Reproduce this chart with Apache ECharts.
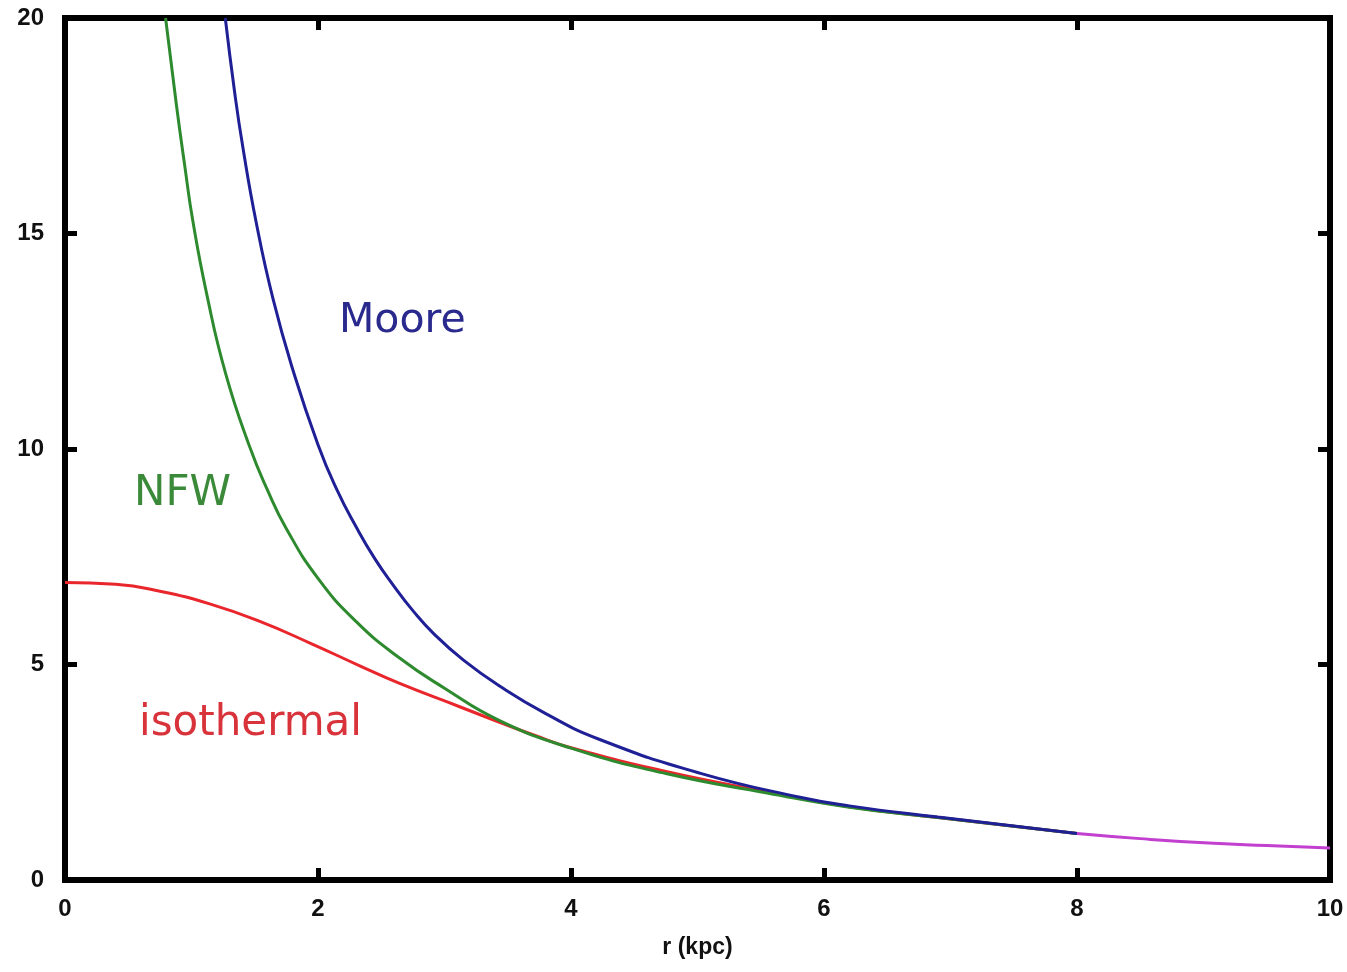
<!DOCTYPE html>
<html>
<head>
<meta charset="utf-8">
<script src="https://cdn.jsdelivr.net/npm/echarts@6/dist/echarts.min.js"></script>
<style>
html,body{margin:0;padding:0;background:#fff;}
#chart{width:1347px;height:972px;}
</style>
</head>
<body>
<div id="chart"></div>
<script>
// ---- data ----
var xTicks = [0, 2, 4, 6, 8, 10];
var yTicks = [0, 5, 10, 15, 20];
var axisTitle = 'r (kpc)';

var isoR = [0, 0.4, 0.75, 1.15, 1.54, 1.95, 2.33, 2.645, 3.12, 3.435, 3.7, 4.0, 4.75, 5.55, 6.2, 6.9, 8.0];
var isoV = [6.9, 6.86, 6.7, 6.4, 6.0, 5.48, 4.97, 4.56, 4.02, 3.66, 3.37, 3.07, 2.52, 2.05, 1.7, 1.45, 1.08];

var nfwR = [0.795, 0.88, 0.95, 1.01, 1.12, 1.27, 1.46, 1.6, 1.75, 2.0, 2.3, 2.645, 3.0, 3.435, 4.0, 4.75, 5.55, 6.2, 6.9, 8.0];
var nfwV = [20, 18.0, 16.5, 15.3, 13.6, 11.75, 10.05, 9.05, 8.15, 7.0, 6.0, 5.15, 4.45, 3.7, 3.06, 2.47, 2.02, 1.69, 1.45, 1.08];

var mooreR = [1.267, 1.34, 1.406, 1.512, 1.643, 1.80, 2.0, 2.15, 2.3, 2.45, 2.6, 2.75, 2.92, 3.15, 3.435, 3.8, 4.227, 5.017, 5.81, 6.2, 6.9, 8.0];
var mooreV = [20, 18.3, 17.0, 15.25, 13.5, 11.85, 10.1, 9.05, 8.2, 7.45, 6.82, 6.25, 5.7, 5.1, 4.5, 3.86, 3.26, 2.48, 1.92, 1.72, 1.46, 1.08];

var tailR = [8.0, 8.5, 9.08, 9.5, 10.0];
var tailV = [1.08, 0.96, 0.85, 0.8, 0.74];

var labelIso = 'isothermal';
var labelNFW = 'NFW';
var labelMoore = 'Moore';

function pairs(a, b) { return a.map(function (v, i) { return [v, b[i]]; }); }

var chart = echarts.init(document.getElementById('chart'), null, {renderer: 'canvas'});

var tickFont = {fontFamily: 'Liberation Sans', fontWeight: 'bold', fontSize: 24, color: '#111'};
var lineAxis = {show: true, onZero: false, lineStyle: {color: '#000', width: 6, cap: 'square'}};
var tickAxis = {show: true, inside: true, length: 12, lineStyle: {color: '#000', width: 5}};

function seriesLine(name, data, color, z) {
  return {
    name: name, type: 'line', data: data, showSymbol: false, symbol: 'none',
    smooth: 0.5, clip: true, z: z,
    lineStyle: {color: color, width: 3}, xAxisIndex: 0, yAxisIndex: 0
  };
}

var option = {
  backgroundColor: '#fff',
  animation: false,
  grid: {left: 65, right: 17, top: 18, bottom: 92, containLabel: false},
  xAxis: [
    {type: 'value', position: 'bottom', min: xTicks[0], max: xTicks[xTicks.length - 1], interval: 2,
     axisLine: lineAxis, axisTick: tickAxis, splitLine: {show: false},
     axisLabel: Object.assign({margin: 17}, tickFont),
     name: axisTitle, nameLocation: 'middle', nameGap: 56,
     nameTextStyle: {fontFamily: 'Liberation Sans', fontWeight: 'bold', fontSize: 23, color: '#111'}},
    {type: 'value', position: 'top', min: xTicks[0], max: xTicks[xTicks.length - 1], interval: 2,
     axisLine: lineAxis, axisTick: tickAxis, splitLine: {show: false}, axisLabel: {show: false}}
  ],
  yAxis: [
    {type: 'value', position: 'left', min: yTicks[0], max: yTicks[yTicks.length - 1], interval: 5,
     axisLine: lineAxis, axisTick: tickAxis, splitLine: {show: false},
     axisLabel: Object.assign({margin: 21}, tickFont)},
    {type: 'value', position: 'right', min: yTicks[0], max: yTicks[yTicks.length - 1], interval: 5,
     axisLine: lineAxis, axisTick: tickAxis, splitLine: {show: false}, axisLabel: {show: false}}
  ],
  series: [
    seriesLine(labelIso, pairs(isoR, isoV), '#e8262c', 2),
    seriesLine(labelNFW, pairs(nfwR, nfwV), '#2e8a2e', 3),
    seriesLine(labelMoore, pairs(mooreR, mooreV), '#1f1f96', 4),
    seriesLine('tail', pairs(tailR, tailV), '#c23fd0', 5)
  ],
  graphic: [
    {type: 'text', left: 339, top: 301, style: {text: labelMoore, fill: '#2a2a8e', font: '41px "DejaVu Sans"'}},
    {type: 'text', left: 134, top: 473, style: {text: labelNFW, fill: '#3a8a3a', font: '42px "DejaVu Sans"'}},
    {type: 'text', left: 139, top: 703, style: {text: labelIso, fill: '#d8323a', font: '42px "DejaVu Sans"'}}
  ]
};
chart.setOption(option);
</script>
</body>
</html>
